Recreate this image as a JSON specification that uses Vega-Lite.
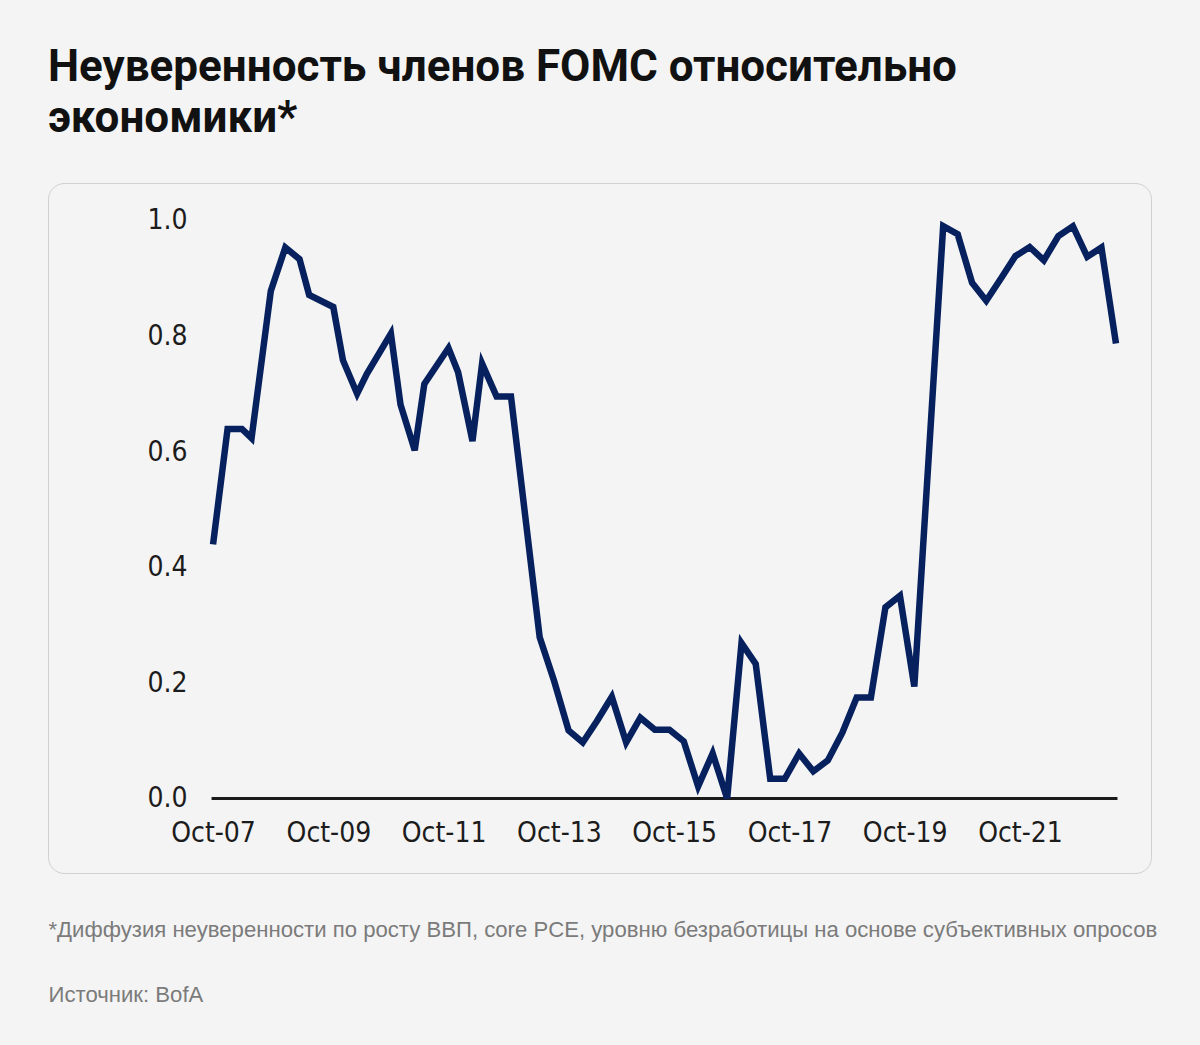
{
  "$schema": "https://vega.github.io/schema/vega-lite/v6.json",
  "width": 1103,
  "height": 690,
  "autosize": {"type": "none"},
  "padding": {"left": 48, "top": 183, "right": 49, "bottom": 172},
  "background": "#f4f4f4",
  "config": {
    "view": {"stroke": "#d0d0d0", "strokeWidth": 1, "cornerRadius": 16, "fill": "#f4f4f4"}
  },
  "title": {
    "text": ["Неуверенность членов FOMC относительно", "экономики*"],
    "anchor": "start",
    "frame": "group",
    "font": "Roboto",
    "fontSize": 44,
    "fontWeight": 700,
    "color": "#111111",
    "lineHeight": 51,
    "offset": 42
  },
  "data": {
    "values": [
      {"date": "2007-10-01", "value": 0.44},
      {"date": "2008-01-01", "value": 0.64},
      {"date": "2008-04-01", "value": 0.64},
      {"date": "2008-06-01", "value": 0.624},
      {"date": "2008-10-01", "value": 0.879},
      {"date": "2009-01-01", "value": 0.954},
      {"date": "2009-04-01", "value": 0.934},
      {"date": "2009-06-01", "value": 0.872},
      {"date": "2009-11-01", "value": 0.851},
      {"date": "2010-01-01", "value": 0.759},
      {"date": "2010-04-01", "value": 0.701},
      {"date": "2010-06-01", "value": 0.735},
      {"date": "2010-11-01", "value": 0.805},
      {"date": "2011-01-01", "value": 0.682},
      {"date": "2011-04-01", "value": 0.603},
      {"date": "2011-06-01", "value": 0.718},
      {"date": "2011-11-01", "value": 0.78},
      {"date": "2012-01-01", "value": 0.738},
      {"date": "2012-04-01", "value": 0.619},
      {"date": "2012-06-01", "value": 0.753},
      {"date": "2012-09-01", "value": 0.696},
      {"date": "2012-12-01", "value": 0.696},
      {"date": "2013-03-01", "value": 0.49},
      {"date": "2013-06-01", "value": 0.279},
      {"date": "2013-09-01", "value": 0.203},
      {"date": "2013-12-01", "value": 0.118},
      {"date": "2014-03-01", "value": 0.097},
      {"date": "2014-06-01", "value": 0.135},
      {"date": "2014-09-01", "value": 0.176},
      {"date": "2014-12-01", "value": 0.097},
      {"date": "2015-03-01", "value": 0.14},
      {"date": "2015-06-01", "value": 0.119},
      {"date": "2015-09-01", "value": 0.119},
      {"date": "2015-12-01", "value": 0.099},
      {"date": "2016-03-01", "value": 0.021},
      {"date": "2016-06-01", "value": 0.078},
      {"date": "2016-09-01", "value": 0.0},
      {"date": "2016-12-01", "value": 0.269},
      {"date": "2017-03-01", "value": 0.233},
      {"date": "2017-06-01", "value": 0.034},
      {"date": "2017-09-01", "value": 0.034},
      {"date": "2017-12-01", "value": 0.078},
      {"date": "2018-03-01", "value": 0.047},
      {"date": "2018-06-01", "value": 0.066},
      {"date": "2018-09-01", "value": 0.114},
      {"date": "2018-12-01", "value": 0.175},
      {"date": "2019-03-01", "value": 0.175},
      {"date": "2019-06-01", "value": 0.331},
      {"date": "2019-09-01", "value": 0.351},
      {"date": "2019-12-01", "value": 0.194},
      {"date": "2020-06-01", "value": 0.991},
      {"date": "2020-09-01", "value": 0.977},
      {"date": "2020-12-01", "value": 0.893},
      {"date": "2021-03-01", "value": 0.862},
      {"date": "2021-06-01", "value": 0.9},
      {"date": "2021-09-01", "value": 0.939},
      {"date": "2021-12-01", "value": 0.955},
      {"date": "2022-03-01", "value": 0.932},
      {"date": "2022-06-01", "value": 0.974},
      {"date": "2022-09-01", "value": 0.991},
      {"date": "2022-12-01", "value": 0.938},
      {"date": "2023-03-01", "value": 0.954},
      {"date": "2023-06-01", "value": 0.788}
    ]
  },
  "layer": [
    {
      "mark": {"type": "rule", "color": "#1a1a1a", "strokeWidth": 3, "strokeCap": "square"},
      "encoding": {
        "x": {
          "aggregate": "min",
          "field": "date",
          "type": "temporal",
          "scale": {
            "type": "utc",
            "domain": [
              {"year": 2004, "month": 11, "date": 19, "utc": true},
              {"year": 2024, "month": 1, "date": 9, "utc": true}
            ],
            "nice": false
          },
          "axis": {
            "values": [
              {"year": 2007, "month": 10, "date": 1, "utc": true},
              {"year": 2009, "month": 10, "date": 1, "utc": true},
              {"year": 2011, "month": 10, "date": 1, "utc": true},
              {"year": 2013, "month": 10, "date": 1, "utc": true},
              {"year": 2015, "month": 10, "date": 1, "utc": true},
              {"year": 2017, "month": 10, "date": 1, "utc": true},
              {"year": 2019, "month": 10, "date": 1, "utc": true},
              {"year": 2021, "month": 10, "date": 1, "utc": true}
            ],
            "format": "%b-%y",
            "offset": -75,
            "domain": false,
            "ticks": false,
            "tickSize": 0,
            "grid": false,
            "labelPadding": 21,
            "labelFont": "Liberation Sans Narrow, DejaVu Sans Condensed, sans-serif",
            "labelFontSize": 28,
            "labelColor": "#1c1c1c",
            "labelOverlap": false,
            "labelFlush": false,
            "title": [
              "*Диффузия неуверенности по росту ВВП, core PCE, уровню безработицы на основе субъективных опросов",
              "Источник: BofA"
            ],
            "titleAnchor": "start",
            "titleAlign": "left",
            "titleX": 0,
            "titleY": 138,
            "titleBaseline": "alphabetic",
            "titleLineHeight": 65,
            "titleFont": "Liberation Sans",
            "titleFontSize": 22.15,
            "titleFontWeight": "normal",
            "titleColor": "#7b7b7b"
          }
        },
        "x2": {"aggregate": "max", "field": "date"},
        "y": {
          "datum": 0,
          "type": "quantitative",
          "scale": {"domain": [-0.129, 1.0658], "nice": false, "zero": false},
          "axis": {
            "values": [0, 0.2, 0.4, 0.6, 0.8, 1],
            "format": ".1f",
            "orient": "left",
            "offset": -139,
            "domain": false,
            "ticks": false,
            "tickSize": 0,
            "grid": false,
            "labelPadding": 0,
            "labelFont": "Liberation Sans Narrow, DejaVu Sans Condensed, sans-serif",
            "labelFontSize": 28,
            "labelColor": "#1c1c1c",
            "title": null
          }
        }
      }
    },
    {
      "mark": {"type": "line", "color": "#06215e", "strokeWidth": 6.5},
      "encoding": {
        "x": {"field": "date", "type": "temporal"},
        "y": {"field": "value", "type": "quantitative"}
      }
    }
  ]
}
